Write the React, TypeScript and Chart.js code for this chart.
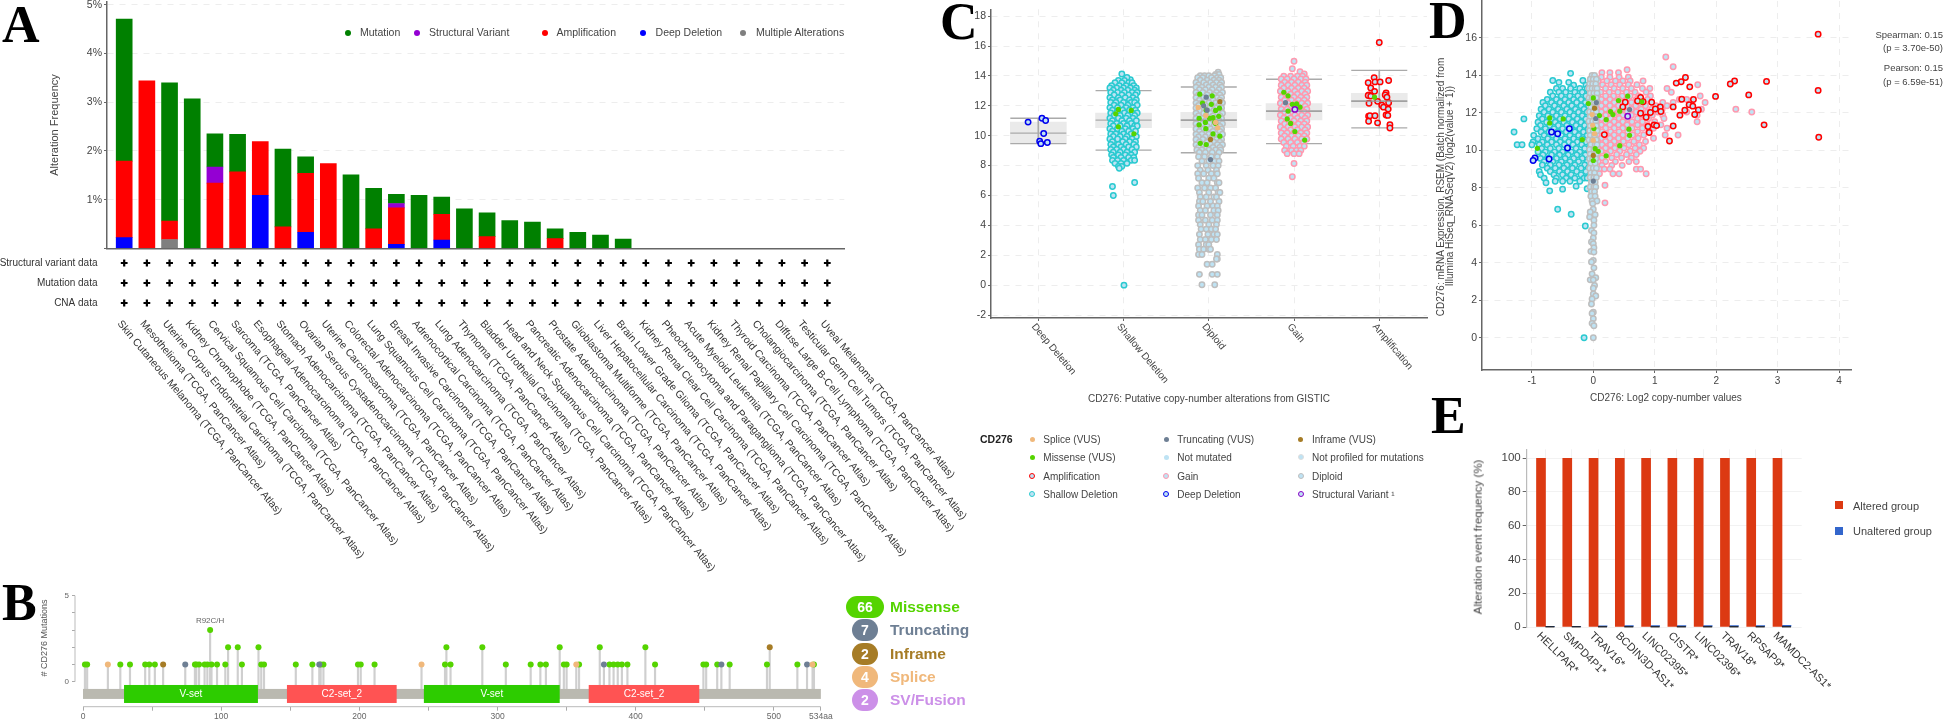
import React, { useEffect, useRef } from "react";
import { Chart, registerables } from "chart.js";
Chart.register(...registerables);

const F = '"Liberation Sans", Arial, sans-serif';
const W = 1944, H = 721, M = 20;
Chart.defaults.font.family = F;

// ---------- Panel A data ----------
const cancerNames = ["Skin Cutaneous Melanoma","Mesothelioma","Uterine Corpus Endometrial Carcinoma","Kidney Chromophobe","Cervical Squamous Cell Carcinoma","Sarcoma","Esophageal Adenocarcinoma","Stomach Adenocarcinoma","Ovarian Serous Cystadenocarcinoma","Uterine Carcinosarcoma","Colorectal Adenocarcinoma","Lung Squamous Cell Carcinoma","Breast Invasive Carcinoma","Adrenocortical Carcinoma","Lung Adenocarcinoma","Thymoma","Bladder Urothelial Carcinoma","Head and Neck Squamous Cell Carcinoma","Pancreatic Adenocarcinoma","Prostate Adenocarcinoma","Glioblastoma Multiforme","Liver Hepatocellular Carcinoma","Brain Lower Grade Glioma","Kidney Renal Clear Cell Carcinoma","Pheochromocytoma and Paraganglioma","Acute Myeloid Leukemia","Kidney Renal Papillary Cell Carcinoma","Thyroid Carcinoma","Cholangiocarcinoma","Diffuse Large B-Cell Lymphoma","Testicular Germ Cell Tumors","Uveal Melanoma"];
const cancerLabels = cancerNames.map((n) => n + " (TCGA, PanCancer Atlas)");
const aDeep = [.22,0,0,0,0,0,1.09,0,.33,0,0,0,.08,0,.17];
const aMulti = [0,0,.18];
const aAmp = [1.57,3.44,.38,0,1.34,1.57,1.10,.44,1.21,1.74,0,.40,.75,0,.53,0,.24,0,0,.20];
const aSV = [0,0,0,0,.33,0,0,0,0,0,0,0,.09];
const aMut = [2.92,0,2.84,3.07,.68,.77,0,1.60,.34,0,1.51,.83,.19,1.09,.35,.81,.49,.57,.54,.20,.33,.27,.19];
const profileRows = ["Structural variant data","Mutation data","CNA data"];
const aLegend = [["Mutation","#008000",348,360],["Structural Variant","#9400D3",417,429],["Amplification","#FF0000",545,556.5],["Deep Deletion","#0000FF",643,655.6],["Multiple Alterations","#7f7f7f",743,756]] as const;

// ---------- Panel B data: [amino acid, count] ----------
const missenseSites = [[1.4,1],[3,1],[27,1],[34,1],[45,1],[48,1],[52,1],[81,1],[82,1],[84,1],[88,1],[90,1],[92,3],[93,1],[97,1],[103,1],[105,2],[112,2],[115,1],[127,2],[129,1],[131,1],[154,1],[166,1],[172,1],[174,1],[199,1],[201,1],[211,1],[262,1],[263,2],[266,1],[289,2],[306,1],[324,1],[331,1],[335,1],[345,2],[348,1],[350,1],[359,1],[374,2],[381,1],[384,1],[387,1],[390,1],[394,1],[407,2],[414,1],[449,1],[451,1],[459,1],[468,1],[495,1],[517,1],[529,1]];
const truncSites = [[74,1],[171,1],[377,1],[462,1],[524,1]];
const inframeSites = [[58,1],[497,2]];
const spliceSites = [[18,1],[245,1],[357,1],[528,1]];
const domains = [["V-set",29.7,126.6,"#2DCC00"],["C2-set_2",147.6,227,"#FF5353"],["V-set",246.7,345,"#2DCC00"],["C2-set_2",366,446,"#FF5353"]] as const;
const proteinLength = 534;
const bLegend = [["66","Missense","#55D400",38],["7","Truncating","#6E7F94",26],["2","Inframe","#A67C26",26],["4","Splice","#F0B87B",26],["2","SV/Fusion","#CC90E8",26]] as const;

// ---------- Panel C data ----------
const cnaCats = ["Deep Deletion","Shallow Deletion","Diploid","Gain","Amplification"];
const boxQ1 = [9.47,10.54,10.54,11.06,11.89];
const boxQ3 = [10.91,11.52,11.56,12.15,12.84];
const boxMed = [10.17,11.04,11.04,11.65,12.32];
const capLow = [9.47,9.03,8.86,9.47,10.52];
const capHigh = [11.17,13.02,13.26,13.78,14.37];
type Row = number[];
const expand = (rows: Row[]) => rows.flatMap(([y, ...xs]) => xs.map((x) => ({ x, y })));
const pairs = (p: number[][]) => p.map(([x, y]) => ({ x, y }));
const deepC = [[-.12,10.91],[.043,11.17],[.086,11.02],[.063,10.15],[.016,9.63],[.03,9.47],[.106,9.55]];
const shallowC: Row[] = [[14.13,.98],[13.75,1.08],[13.9,1.04],[13.7,.94,1.01],[13.55,.9,.98,1.06,1.1],[13.35,.86,.95,1.03,1.12],[13.2,.84,.92,1,1.08,1.15],[13.05,.88,.97,1.05,1.13],[12.9,.85,.93,1.01,1.1,1.16],[12.72,.89,.98,1.06,1.14],[12.55,.84,.94,1.02,1.11],[12.4,.87,.96,1.07,1.15],[12.22,.85,.91,1,1.09,1.13],[12.05,.89,.97,1.05,1.16],[11.88,.84,.93,1.03,1.11],[11.7,.87,.99,1.07,1.14],[11.52,.85,.92,1.01,1.1,1.16],[11.35,.89,.96,1.05,1.13],[11.18,.84,.94,1.03,1.11],[11,.87,.98,1.07,1.15],[10.82,.85,.92,1,1.09],[10.65,.88,.96,1.04,1.13,1.16],[10.47,.84,.93,1.02,1.11],[10.3,.87,.98,1.06,1.14],[10.12,.85,.91,1,1.09],[9.95,.88,.96,1.04,1.13,1.15],[9.78,.84,.93,1.02,1.1],[9.6,.87,.99,1.07,1.14],[9.42,.85,.94,1.03,1.12],[9.25,.88,.97,1.06,1.15],[9.08,.85,.92,1,1.1],[8.9,.88,.96,1.04,1.13],[8.72,.86,.94,1.02,1.09],[8.55,.88,.97,1.06,1.12],[8.35,.87,.93,1,1.09,1.13],[8.15,.9,.97,1.04],[7.95,.94,.98],[7.82,.95],[6.87,1.13],[6.6,.87],[6,.88],[0,1.005]];
const diploidC: Row[] = [[14.25,2.11],[14.1,2.08,2.12],[14.02,1.9,1.95,2,2.07],[13.88,1.87,1.93,2.03,2.1,2.14],[13.72,1.9,1.98,2.06,2.12],[13.56,1.85,1.94,2.02,2.09,2.15],[13.4,1.88,1.97,2.05,2.13],[13.24,1.85,1.92,2,2.08,2.15],[13.08,1.89,1.96,2.04,2.12],[12.9,1.85,1.93,2.01,2.09,2.16],[12.72,1.88,1.98,2.06,2.13],[12.55,1.85,1.94,2.02,2.1,2.15],[12.38,1.89,1.97,2.05,2.13],[12.2,1.85,1.92,2,2.08,2.16],[12.03,1.88,1.96,2.04,2.12],[11.86,1.85,1.93,2.01,2.09,2.15],[11.68,1.89,1.98,2.06,2.13],[11.5,1.85,1.94,2.02,2.1,2.16],[11.33,1.88,1.97,2.05,2.13],[11.16,1.85,1.92,2,2.08,2.15],[10.98,1.89,1.96,2.04,2.12],[10.8,1.85,1.93,2.01,2.09,2.16],[10.62,1.88,1.98,2.06,2.13],[10.45,1.85,1.94,2.02,2.1,2.15],[10.28,1.89,1.97,2.05,2.13],[10.1,1.85,1.92,2,2.08,2.16],[9.92,1.88,1.96,2.04,2.12],[9.75,1.85,1.93,2.01,2.09,2.15],[9.57,1.89,1.98,2.06,2.13],[9.4,1.85,1.94,2.02,2.1,2.16],[9.22,1.88,1.97,2.05,2.13],[9.05,1.86,1.92,2,2.08,2.14],[8.88,1.89,1.96,2.04,2.12],[8.6,1.88,1.95,2.03,2.1],[8.3,1.92,2,2.07,2.12],[8,1.87,1.97,2.05,2.11],[7.7,1.9,1.99,2.09],[7.45,1.87,1.94,2.03,2.1],[7.15,1.88,2,2.06],[6.85,1.92,1.98,2.1,2.12],[6.5,1.87,1.95,2.02,2.08],[6.2,1.89,2,2.11,2.13],[5.9,1.9,1.97,2.06,2.09],[5.6,1.89,1.93,2.02,2.12],[5.3,1.88,1.98,2.05,2.1],[5,1.9,1.96,2.06,2.11],[4.7,1.88,1.92,2.02,2.1],[4.35,1.88,1.96,2.04,2.1],[4.05,1.9,2,2.09],[3.75,1.91,1.97,2.03,2.08],[3.4,1.89,1.99,2.06,2.1],[3.05,1.9,1.96,2.03,2.09],[2.7,1.88,1.97,2],[2.4,1.89,1.94,2,2.02],[2.05,1.88,1.92,2.1],[1.75,2.1,2.09],[1.4,1.98,2.04],[.72,1.89,2.04,2.1],[.03,1.92,2.07]];
const gainC: Row[] = [[14.98,3],[14.48,2.98],[14.28,3.07],[14.13,3.12],[13.98,2.88,2.96,3.04,3.1],[13.8,2.85,2.92,3,3.08,3.14],[13.58,2.89,2.97,3.05,3.13],[13.38,2.85,2.93,3.01,3.09,3.15],[13.18,2.88,2.97,3.05,3.12],[12.98,2.84,2.93,3.01,3.09,3.16],[12.78,2.88,2.96,3.04,3.13],[12.58,2.85,2.92,3,3.08,3.15],[12.38,2.89,2.97,3.05,3.12],[12.18,2.84,2.93,3.02,3.09,3.16],[11.98,2.88,2.96,3.04,3.13],[11.78,2.85,2.92,3,3.08,3.15],[11.58,2.89,2.97,3.05,3.12],[11.38,2.84,2.93,3.01,3.09,3.16],[11.18,2.88,2.96,3.04,3.13],[10.98,2.85,2.92,3,3.08,3.15],[10.78,2.89,2.97,3.05,3.12],[10.58,2.84,2.93,3.01,3.09,3.16],[10.38,2.88,2.96,3.04,3.13],[10.18,2.85,2.92,3,3.08,3.15],[9.98,2.89,2.97,3.05,3.12],[9.78,2.85,2.93,3.01,3.09,3.15],[9.55,2.88,2.96,3.04,3.11],[9.3,2.91,2.99,3.07,3.12],[9.02,2.89,2.97,3.03,3.08],[8.8,2.92,3,3.06],[8.14,3],[7.25,2.98]];
const ampC = [[4,16.24],[3.94,13.89],[4.11,13.69],[3.87,13.54],[3.95,13.6],[4.01,13.6],[3.9,13.19],[3.945,12.97],[4.08,12.87],[4.07,12.73],[3.88,12.73],[3.87,12.69],[3.9,12.65],[4.09,12.58],[3.98,12.3],[3.88,12.17],[4.11,12.21],[4.03,12.04],[4.05,11.91],[4.105,11.78],[4.08,11.39],[4.1,11.36],[3.875,11.3],[3.89,11.34],[3.95,11.34],[3.875,10.97],[3.98,10.86],[4.125,10.73],[4.125,10.52]];
const missenseC = [[.908,11.47],[.939,11.76],[1.09,11.69],[.939,10.6],[1.122,10.13],[1.894,12.78],[2.04,12.67],[1.926,12.19],[2.03,12.1],[1.97,11.71],[2.08,11.69],[2.125,11.84],[2.117,11.3],[1.887,11.17],[2.01,11.17],[2.05,11.21],[1.96,10.89],[2.08,10.82],[1.887,10.73],[1.965,10.47],[2.05,10.12],[2.13,9.97],[1.9,9.49],[1.97,9.41],[2.07,10.91],[2.88,12.91],[2.93,12.67],[2.98,12.1],[3.03,12.13],[3.07,11.91],[2.93,11.65],[2.92,11.12],[2.96,10.82],[3.01,10.28],[3.125,9.71],[3.945,12.58]];
const truncC = [[1.97,12.58],[1.94,12],[1.98,11.71],[2.02,8.4],[2.9,12.21]];
const inframeC = [[2.13,12.28],[2.02,9.75]];
const spliceC = [[1.875,11.89],[1.965,11.36],[2.08,10.89],[2.105,10.54]];
const svC = [[3.01,11.76]];

// ---------- Panel D data ----------
const deepD = [[-.68,10.98],[-.58,10.89],[-.39,11.16],[-.42,10.13],[-.72,9.54],[-.95,9.59],[-.98,9.46]];
const shallowD: Row[] = [[14.11,-.37],[13.73,-.66,-.17],[13.63,-.56,-.4],[13.48,-.32,-.12,-.06],[13.3,-.6,-.5,-.37,-.22,-.1,-.03],[13.1,-.7,-.56,-.45,-.3,-.18,-.07],[12.9,-.66,-.52,-.38,-.25,-.12,-.02],[12.72,-.75,-.6,-.46,-.32,-.2,-.06],[12.55,-.82,-.68,-.54,-.4,-.27,-.13,-.01],[12.38,-.78,-.63,-.48,-.35,-.2,-.08],[12.2,-.85,-.72,-.57,-.43,-.29,-.15,-.03],[12.03,-.8,-.66,-.52,-.38,-.24,-.1],[11.85,-.88,-.74,-.6,-.46,-.32,-.18,-.04],[11.68,-1.13,-.83,-.68,-.54,-.4,-.26,-.12],[11.5,-.9,-.76,-.62,-.48,-.34,-.2,-.06],[11.33,-.86,-.71,-.57,-.43,-.28,-.14,-.01],[11.15,-.92,-.78,-.64,-.5,-.36,-.22,-.08],[10.98,-1.29,-.85,-.72,-.58,-.44,-.3,-.16,-.02],[10.8,-.97,-.8,-.66,-.52,-.38,-.24,-.1],[10.62,-.9,-.74,-.6,-.46,-.32,-.18,-.04],[10.45,-.98,-.83,-.68,-.54,-.4,-.26,-.12],[10.3,-1.24,-1.16,-1,-.88,-.75,-.6,-.47,-.33,-.19,-.05],[10.1,-.84,-.7,-.56,-.42,-.28,-.14],[9.92,-.9,-.78,-.63,-.5,-.36,-.22,-.07],[9.75,-.82,-.68,-.55,-.41,-.27,-.13,-.02],[9.57,-.86,-.74,-.6,-.46,-.32,-.18,-.06],[9.4,-.8,-.66,-.52,-.38,-.24,-.1],[9.22,-.83,-.7,-.56,-.43,-.3,-.14,-.03],[9.05,-.75,-.62,-.48,-.34,-.2,-.08],[8.87,-.88,-.7,-.55,-.42,-.27,-.12],[8.7,-.86,-.64,-.5,-.36,-.2,-.05],[8.52,-.8,-.6,-.44,-.3,-.15,-.1],[8.35,-.62,-.5,-.38,-.22],[8.27,-.77],[8.09,-.28],[7.95,-.1],[7.93,-.5],[7.84,-.71],[6.86,-.58],[6.59,-.36],[5.96,-.13],[0,-.15]];
const gainD: Row[] = [[14.98,1.18],[14.46,1.3],[14.3,.55],[14.15,.41,.27,.14],[13.9,.13,.27,.42,.57],[13.7,.08,.22,.36,.48,.6,.81],[13.5,.15,.29,.43,.57,.71,1.7],[13.3,.06,.2,.34,.48,.62,.8,.92,1.2],[13.1,.12,.26,.4,.54,.68,.86,1.27],[12.9,.07,.2,.33,.47,.6,.74,.93,1.74],[12.72,.13,.27,.41,.55,.7,.88,1.4,1.52],[12.55,.07,.2,.34,.48,.62,.76,1.13,1.3,1.82],[12.38,.13,.27,.41,.55,.69,.85,1.02,1.2],[12.2,.06,.2,.34,.48,.62,.78,.95,1.12,1.76,2.32],[12.05,.13,.27,.41,.55,.7,.88,1.05,1.52,2.58],[11.88,.07,.2,.34,.48,.62,.78,.96,1.13,1.69],[11.7,.14,.28,.42,.56,.72,.9,1.15],[11.53,.06,.2,.34,.48,.63,.8,1,1.69],[11.36,.13,.27,.41,.55,.72,.88,1.1],[11.18,.07,.2,.34,.48,.63,.8,.98,1.2],[11,.14,.28,.42,.56,.72,.9],[10.82,.06,.2,.34,.48,.64,.82,1.17,1.38],[10.65,.13,.27,.41,.56,.73,.98],[10.47,.07,.2,.34,.49,.66,.85],[10.3,.14,.28,.42,.58,.75],[10.12,.07,.2,.35,.5,.68,.82],[9.95,.13,.28,.43,.6,.76],[9.78,.07,.22,.38,.54,.7],[9.6,.14,.3,.46,.62],[9.4,.08,.2,.36,.58,.7],[9.2,.14,.3,.47],[9,.1,.18,.27,.7,.77],[8.75,.1,.32,.42,.86],[8.14,.19],[7.2,.19]];
const diploidD: Row[] = [[14,-.02,.02],[13.8,-.05,0,.05],[13.55,-.06,-.01,.04],[13.3,-.07,-.02,.03,.06],[13.05,-.05,.01,.06],[12.8,-.07,-.02,.05],[12.55,-.06,.02,.06],[12.3,-.04,.03],[12.05,-.06,0,.05],[11.8,-.05,.02,.06],[11.55,-.07,-.01,.04],[11.3,-.05,.03,.05],[11.05,-.06,0,.06],[10.8,-.05,.02],[10.55,-.07,-.01,.05],[10.3,-.04,.03,.06],[10.05,-.06,.01],[9.8,-.05,.02,.05],[9.55,-.06,-.01,.04],[9.3,-.04,.03],[9.05,-.06,0,.05],[8.8,-.04,.02],[8.55,-.05,.01,.05],[8.3,-.03,.03],[8.05,-.05,.01,.04],[7.8,-.03,.02],[7.55,-.04,.03],[7.3,-.02,.06],[7.16,-.01],[6.86,0],[6.71,-.05],[6.57,.03],[6.45,-.06],[6.27,.01],[6,.01],[5.73,-.03],[5.59,.01],[5.32,0],[5.11,-.03],[5.02,0],[4.8,.01],[4.61,-.04],[4.57,.01],[4.13,0],[4.04,-.03],[3.73,.01],[3.41,-.02],[3.2,.04],[3.09,-.05,0],[2.79,.02],[2.64,0],[2.34,0],[2.23,.04],[2.07,-.02],[1.8,-.03],[1.36,0],[1.3,-.02],[1.02,0],[.77,-.02],[.64,.01],[0,0]];
const ampD = [[1.5,13.89],[1.43,13.66],[1.35,13.59],[1.57,13.39],[2.3,13.7],[2.23,13.54],[2.82,13.68],[2.53,12.96],[1.99,12.88],[.77,12.82],[.52,12.57],[.72,12.63],[.81,12.59],[.95,12.57],[.48,12.32],[1.63,12.71],[1.44,12.73],[1.56,12.43],[1.62,12.36],[1.3,12.32],[1.09,12.32],[1.01,12.21],[1.1,12.07],[1.71,12.16],[1.49,12.14],[.93,12.02],[.77,11.98],[.86,11.77],[1.41,11.88],[1.65,11.91],[1.3,11.3],[.99,11.36],[1.03,11.32],[.89,11.27],[.91,10.95],[.18,10.84],[1.24,10.5],[2.78,11.36],[3.66,16.2],[3.66,13.2],[3.67,10.7]];
const missenseD = [[-.71,11.73],[-.49,11.68],[-.71,11.46],[-.08,12.5],[0,12.8],[-.18,10.57],[-.91,10.11],[.41,12.66],[.56,12.89],[.79,12.59],[.28,12.07],[.43,12.09],[.1,11.86],[.21,11.64],[.32,11.91],[.58,11.13],[.59,10.8],[.43,10.25],[.08,9.95],[.21,9.71],[0,9.46],[.01,11.16],[.03,10.09]];
const truncD = [[.05,12.55],[.59,12.18],[.04,11.7],[0,8.36]];
const inframeD = [[.02,12.25],[0,9.73]];
const spliceD = [[-.02,11.91],[-.01,11.34],[.02,10.89],[0,10.54]];
const svD = [[.56,11.82]];
const statLines = [["Spearman: 0.15",35],["(p = 3.70e-50)",48],["Pearson: 0.15",68],["(p = 6.59e-51)",82]] as const;

// ---------- Panel E data ----------
const eGenes = ["HELLPAR*","SMPD4P1*","TRAV16*","BCDIN3D-AS1*","LINC02395*","CISTR*","LINC02396*","TRAV18*","RPSAP9*","MAMDC2-AS1*"];
const eAltered = [100,100,100,100,100,100,100,100,100,100];
const eUnaltered = [.1,.4,.7,.9,.9,.9,.9,.9,.9,1];

// ---------- C legend ----------
const cLegend = [
  [["Splice (VUS)","#F0B87B",0],["Missense (VUS)","#55D400",0],["Amplification","#FF0000",1],["Shallow Deletion","#2ACAD0",1]],
  [["Truncating (VUS)","#6E7F94",0],["Not mutated","#BEE3F4",0],["Gain","#FF99AF",1],["Deep Deletion","#0000EE",1]],
  [["Inframe (VUS)","#A67C26",0],["Not profiled for mutations","#DDDDDD",1],["Diploid","#BEBEBE",1],["Structural Variant \u00b9","#8A00C8",1]],
] as const;

// ---------- helpers ----------
type P = { l: number; t: number; r: number; b: number };
const YW = 60, XH = 24;
const padOf = (p: P, yw = YW, xh = XH) => ({ left: p.l + M - yw, top: p.t + M, right: W + M - p.r, bottom: H + M - p.b - xh });
const sized = { afterFit: (s: any) => { if (s.isHorizontal()) s.height = XH; else s.width = YW; } };
const at = (vals: number[]) => ({ afterBuildTicks: (s: any) => { s.ticks = vals.map((value) => ({ value })); } });
const tk = (size: number, color = "#444", extra: any = {}) => ({ font: { size, family: F }, color, autoSkip: false, maxRotation: 0, minRotation: 0, padding: 2, ...extra });
const gridDash = { color: "#EDEDED", tickColor: "#666", tickLength: 3, lineWidth: 1 };
const axisLine = { display: true, color: "#666", width: 1.5, dash: [6, 6] };
const FILL = "#BEE3F4";
const ring = (data: any[], stroke: string) => ({ type: "scatter", data, pointRadius: 2.7, pointBorderWidth: 1.5, pointBorderColor: stroke, pointBackgroundColor: FILL, showLine: false });
const dot = (data: any[], color: string, r = 2.6) => ({ type: "scatter", data, pointRadius: r, pointBorderWidth: 0, pointBackgroundColor: color, showLine: false });
const layered = (ds: any[]) => ds.map((d, i) => ({ ...d, order: -i }));
const rotLabels = (id: string, labels: string[], angle: number, size: number, color: string, dy: number, dx: number) => ({
  id,
  afterDraw(chart: any) {
    const { ctx, chartArea, scales } = chart;
    ctx.save();
    ctx.font = `${size}px ${F}`;
    ctx.fillStyle = color;
    ctx.textAlign = "left";
    ctx.textBaseline = "middle";
    labels.forEach((t, i) => {
      ctx.save();
      ctx.translate(scales.x.getPixelForValue(i) + dx, chartArea.bottom + dy);
      ctx.rotate((angle * Math.PI) / 180);
      ctx.fillText(t, 0, 0);
      ctx.restore();
    });
    ctx.restore();
  },
});
const base = (p: P, scales: any, pad: any = padOf(p)) => ({
  animation: false, responsive: false, events: [],
  layout: { padding: pad },
  plugins: { legend: { display: false }, tooltip: { enabled: false }, title: { display: false } },
  scales,
});

// ---------- chart configs ----------
const xA = { type: "linear", min: -0.758, max: 31.75 };
const stackSet = (vals: number[], color: string) => ({ type: "bar", data: vals.map((y, x) => ({ x, y })).filter((d) => d.y > 0), backgroundColor: color, barThickness: 16 });
const chartA = () => ({
  type: "bar",
  data: { datasets: [stackSet(aDeep, "#0000FF"), stackSet(aMulti, "#7F7F7F"), stackSet(aAmp, "#FF0000"), stackSet(aSV, "#9400D3"), stackSet(aMut, "#008000")] },
  options: base({ l: 107, t: 2, r: 844.3, b: 248.3 }, {
    x: { ...xA, ...sized, stacked: true, offset: false, ticks: { display: false }, grid: { display: false, offset: false }, border: { display: true, color: "#666", width: 1.5 } },
    y: { ...sized, ...at([0, 1, 2, 3, 4, 5]), stacked: true, min: 0, max: 5.06, ticks: tk(10.5, "#444", { callback: (v: number) => (v > 0 ? v + "%" : "") }), grid: gridDash, border: axisLine },
  }),
});
const chartRows = () => ({
  type: "scatter",
  data: { datasets: profileRows.map((r) => ({ data: cancerNames.map((_, i) => ({ x: i, y: r })), pointStyle: "cross", pointRadius: 3.4, pointBorderWidth: 2.2, pointBorderColor: "#000", showLine: false })) },
  options: base({ l: 107, t: 253, r: 844.3, b: 313 }, {
    x: { ...xA, display: false },
    y: { type: "category", labels: profileRows, offset: true, afterFit: (s: any) => { s.width = 110; }, ticks: tk(10, "#333", { padding: 1.5 }), grid: { display: false }, border: { display: false } },
  }, padOf({ l: 107, t: 253, r: 844.3, b: 313 }, 110, 0)),
  plugins: [rotLabels("aLabels", cancerLabels, 50, 10.5, "#333", 9, -5)],
});
const stems = (sites: number[][]) => ({ type: "bar", grouped: false, data: sites.map(([x, c]) => ({ x, y: [-0.42, c] })), backgroundColor: "#CFCFCF", barThickness: 1.5 });
const sitePts = (sites: number[][], color: string) => dot(sites.map(([x, y]) => ({ x, y })), color, 3);
const chartB = () => ({
  type: "scatter",
  data: { datasets: layered([stems(missenseSites), stems(truncSites), stems(inframeSites), stems(spliceSites), sitePts(missenseSites, "#55D400"), sitePts(truncSites, "#6E7F94"), sitePts(inframeSites, "#A67C26"), sitePts(spliceSites, "#F0B87B")]) },
  options: base({ l: 75, t: 595.7, r: 825, b: 706.7 }, {
    x: { type: "linear", min: -5.79, max: 537, offset: false, ...sized, ...at([0, 50, 100, 150, 200, 250, 300, 350, 400, 450, 500, proteinLength]), ticks: tk(8.5, "#666", { padding: 1, callback: (v: number) => (v === proteinLength ? v + "aa" : v % 100 === 0 ? String(v) : "") }), grid: { drawOnChartArea: false, tickColor: "#AAA", tickLength: 4, offset: false }, border: { display: false } },
    y: { min: -1.453, max: 5, ...sized, ...at([0, 1, 2, 3, 4, 5]), ticks: tk(8, "#666", { padding: 3, callback: (v: number) => (v === 0 || v === 5 ? String(v) : "") }), grid: { drawOnChartArea: false, tickColor: "#AAA", tickLength: 3 }, border: { display: false } },
  }),
  plugins: [{
    id: "track",
    afterDatasetsDraw(chart: any) {
      const { ctx, scales: { x, y }, chartArea } = chart;
      ctx.save();
      ctx.fillStyle = "#BAB9B0";
      ctx.fillRect(x.getPixelForValue(0), y.getPixelForValue(-0.42), x.getPixelForValue(proteinLength) - x.getPixelForValue(0), 10);
      domains.forEach(([name, a, b, color]) => {
        const xa = x.getPixelForValue(a), xb = x.getPixelForValue(b);
        ctx.fillStyle = color;
        ctx.fillRect(xa, y.getPixelForValue(-0.19), xb - xa, 18);
        ctx.fillStyle = "#fff";
        ctx.font = `10px ${F}`;
        ctx.textAlign = "center";
        ctx.textBaseline = "middle";
        ctx.fillText(name, (xa + xb) / 2, y.getPixelForValue(-0.19) + 9);
      });
      ctx.strokeStyle = "#BBB";
      ctx.lineWidth = 1;
      ctx.beginPath();
      ctx.moveTo(x.getPixelForValue(0), chartArea.bottom);
      ctx.lineTo(x.getPixelForValue(proteinLength), chartArea.bottom);
      ctx.moveTo(chartArea.left, y.getPixelForValue(0));
      ctx.lineTo(chartArea.left, y.getPixelForValue(5));
      ctx.stroke();
      ctx.fillStyle = "#666";
      ctx.font = `8px ${F}`;
      ctx.textAlign = "center";
      ctx.fillText("R92C/H", x.getPixelForValue(92), y.getPixelForValue(3) - 9);
      ctx.restore();
    },
  }],
});
const capLine = (data: any[], color = "#AAAAAA") => ({ type: "scatter", data, pointStyle: "line", pointRadius: 28, pointBorderWidth: 1.3, pointBorderColor: color, showLine: false });
const chartC = () => ({
  type: "scatter",
  data: {
    datasets: layered([
      { type: "bar", grouped: false, data: cnaCats.map((_, i) => ({ x: i, y: [boxQ1[i], boxQ3[i]] })), backgroundColor: "#EAEAEA", barThickness: 56 },
      { type: "bar", grouped: false, data: cnaCats.map((_, i) => ({ x: i, y: [capLow[i], capHigh[i]] })), backgroundColor: "#AAAAAA", barThickness: 1 },
      capLine(cnaCats.map((_, i) => ({ x: i, y: capLow[i] }))),
      capLine(cnaCats.map((_, i) => ({ x: i, y: capHigh[i] }))),
      capLine(cnaCats.map((_, i) => ({ x: i, y: boxMed[i] }))),
      ring(pairs(deepC), "#0000EE"), ring(expand(shallowC), "#2ACAD0"), ring(expand(diploidC), "#BEBEBE"), ring(expand(gainC), "#FF99AF"), ring(pairs(ampC), "#FF0000"),
      capLine([2, 3, 4].map((i) => ({ x: i, y: boxMed[i] })), "#999999"),
      dot(pairs(missenseC), "#55D400"), dot(pairs(truncC), "#6E7F94"), dot(pairs(inframeC), "#A67C26"), dot(pairs(spliceC), "#F0B87B"), ring(pairs(svC), "#8A00C8"),
    ]),
  },
  options: base({ l: 991, t: 1.7, r: 1427, b: 318 }, {
    x: { type: "linear", min: -0.555, max: 4.56, offset: false, ...sized, ...at([0, 1, 2, 3, 4]), ticks: { display: false }, grid: { ...gridDash, offset: false }, border: axisLine },
    y: { min: -2.2, max: 18.46, ...sized, ...at([-2, 0, 2, 4, 6, 8, 10, 12, 14, 16, 18]), ticks: tk(10.5), grid: gridDash, border: axisLine },
  }),
  plugins: [rotLabels("cLabels", cnaCats, 50, 10, "#444", 7, -5)],
});
const chartD = () => ({
  type: "scatter",
  data: { datasets: layered([ring(expand(shallowD), "#2ACAD0"), ring(expand(gainD), "#FF99AF"), ring(expand(diploidD), "#BEBEBE"), ring(pairs(deepD), "#0000EE"), ring(pairs(ampD), "#FF0000"), dot(pairs(missenseD), "#55D400"), dot(pairs(truncD), "#6E7F94"), dot(pairs(inframeD), "#A67C26"), dot(pairs(spliceD), "#F0B87B"), ring(pairs(svD), "#8A00C8")]) },
  options: base({ l: 1482, t: 1, r: 1851, b: 370 }, {
    x: { type: "linear", min: -1.812, max: 4.195, ...sized, ...at([-1, 0, 1, 2, 3, 4]), ticks: tk(10, "#444", { padding: 2 }), grid: gridDash, border: axisLine },
    y: { min: -1.72, max: 17.97, ...sized, ...at([0, 2, 4, 6, 8, 10, 12, 14, 16]), ticks: tk(10.5), grid: gridDash, border: axisLine },
  }),
});
const chartE = () => ({
  type: "bar",
  data: {
    datasets: [
      { data: eGenes.map((_, i) => ({ x: i, y: eAltered[i] })), backgroundColor: "#DC3912", barThickness: 9 },
      { data: eGenes.map((_, i) => ({ x: i, y: eUnaltered[i] })), backgroundColor: "#3366CC", barThickness: 9 },
    ],
  },
  options: base({ l: 1526.7, t: 449.3, r: 1801.7, b: 627 }, {
    x: { type: "linear", min: -0.715, max: 9.75, offset: false, ...sized, ...at([0, 1, 2, 3, 4, 5, 6, 7, 8, 9]), ticks: { display: false }, grid: { color: "#F2F2F2", offset: false, drawTicks: false }, border: { display: false } },
    y: { min: 0, max: 105.3, ...sized, ...at([0, 20, 40, 60, 80, 100]), ticks: tk(11.5), grid: { color: "#F2F2F2", tickColor: "#666", tickLength: 4 }, border: { display: true, color: "#BBB", width: 1.2 } },
  }),
  plugins: [
    rotLabels("eLabels", eGenes, 45, 11, "#333", 7, -7),
    {
      id: "eBase",
      afterDatasetsDraw(chart: any) {
        const { ctx } = chart;
        ctx.save();
        ctx.strokeStyle = "#111";
        ctx.lineWidth = 1.2;
        chart.getDatasetMeta(1).data.forEach((b: any) => {
          ctx.beginPath();
          ctx.moveTo(b.x - 4.5, b.base + 0.3);
          ctx.lineTo(b.x + 4.5, b.base + 0.3);
          ctx.stroke();
        });
        ctx.restore();
      },
    },
  ],
});
const configs = [chartA, chartRows, chartB, chartC, chartD, chartE];

// ---------- DOM text ----------
const Txt = ({ x, y, size = 10, color = "#444", rot = 0, anchor = "l", bold = false, family = F, children }: any) => {
  const tx = anchor === "c" ? "-50%" : anchor === "r" ? "-100%" : "0";
  return <div style={{ position: "absolute", left: x, top: y, transform: `translate(${tx},-50%) rotate(${rot}deg)`, transformOrigin: anchor === "c" ? "50% 50%" : "0 50%", whiteSpace: "nowrap", font: `${bold ? "bold " : ""}${size}px ${family}`, color, lineHeight: 1.1 }}>{children}</div>;
};
const Dot = ({ x, y, color, hollow = false, r = 3 }: any) => (
  <div style={{ position: "absolute", left: x - r, top: y - r, width: 2 * r, height: 2 * r, borderRadius: "50%", boxSizing: "border-box", background: hollow ? FILL : color, border: hollow ? `1.5px solid ${color}` : "none" }} />
);
const Letter = ({ x, y, children }: any) => <div style={{ position: "absolute", left: x, top: y, font: `bold 52px "Liberation Serif", serif`, color: "#000", lineHeight: 1 }}>{children}</div>;

export default function App() {
  const refs = useRef<(HTMLCanvasElement | null)[]>([]);
  useEffect(() => {
    const charts = configs.map((c, i) => new Chart(refs.current[i] as any, c() as any));
    return () => charts.forEach((c) => c.destroy());
  }, []);
  const colX = [1032, 1166, 1300.7];
  const rowY = [439, 457.3, 475.7, 493.7];
  const pillY = [606.7, 629.7, 654, 676.7, 700];
  return (
    <div style={{ position: "fixed", left: 0, top: 0, width: W, height: H, background: "#fff", overflow: "hidden" }}>
      {configs.map((_, i) => (
        <canvas key={i} ref={(el) => { refs.current[i] = el; }} width={W + 2 * M} height={H + 2 * M} style={{ position: "absolute", left: -M, top: -M, width: W + 2 * M, height: H + 2 * M }} />
      ))}
      <Letter x={2} y={-1}>A</Letter>
      <Letter x={2} y={577}>B</Letter>
      <Letter x={940} y={-4}>C</Letter>
      <Letter x={1429} y={-5}>D</Letter>
      <Letter x={1431} y={390}>E</Letter>

      <Txt x={54} y={125} size={11} rot={-90} anchor="c" color="#444">Alteration Frequency</Txt>
      {aLegend.map(([t, c, dx, tx]) => (
        <React.Fragment key={t}><Dot x={dx} y={33} color={c} /><Txt x={tx} y={33} size={10.5}>{t}</Txt></React.Fragment>
      ))}

      <Txt x={44.6} y={638} size={9} rot={-90} anchor="c" color="#555">{"# CD276 Mutations"}</Txt>
      {bLegend.map(([n, t, c, w], i) => (
        <React.Fragment key={t}>
          <div style={{ position: "absolute", left: 865 - w / 2, top: pillY[i] - 11, width: w, height: 22, borderRadius: 11, background: c, color: "#fff", font: `bold 14px ${F}`, textAlign: "center", lineHeight: "22px" }}>{n}</div>
          <Txt x={890} y={pillY[i]} size={15.5} bold color={c}>{t}</Txt>
        </React.Fragment>
      ))}

      <Txt x={1209} y={397.5} size={10} anchor="c">CD276: Putative copy-number alterations from GISTIC</Txt>
      <Txt x={980} y={440} size={10.5} bold color="#222">CD276</Txt>
      {cLegend.map((col, ci) => col.map(([t, c, hollow], ri) => (
        <React.Fragment key={t}>
          <Dot x={colX[ci]} y={rowY[ri]} color={c} hollow={!!hollow} r={hollow ? 3 : 2.5} />
          <Txt x={colX[ci] + 11.3} y={rowY[ri]} size={10}>{t}</Txt>
        </React.Fragment>
      )))}

      <Txt x={1440} y={187} size={10} rot={-90} anchor="c">CD276: mRNA Expression, RSEM (Batch normalized from</Txt>
      <Txt x={1449} y={186} size={10} rot={-90} anchor="c">{"Illumina HiSeq_RNASeqV2) (log2(value + 1))"}</Txt>
      <Txt x={1666} y={397} size={10} anchor="c">CD276: Log2 copy-number values</Txt>
      {statLines.map(([t, y]) => <Txt key={t} x={1943} y={y} size={9.5} anchor="r">{t}</Txt>)}

      <Txt x={1478} y={537} size={11.5} rot={-90} anchor="c">Alteration event frequency (%)</Txt>
      <div style={{ position: "absolute", left: 1835, top: 501, width: 8, height: 8, background: "#DC3912" }} />
      <div style={{ position: "absolute", left: 1835, top: 527, width: 8, height: 8, background: "#3366CC" }} />
      <Txt x={1853} y={505.5} size={11}>Altered group</Txt>
      <Txt x={1853} y={531} size={11}>Unaltered group</Txt>
    </div>
  );
}
